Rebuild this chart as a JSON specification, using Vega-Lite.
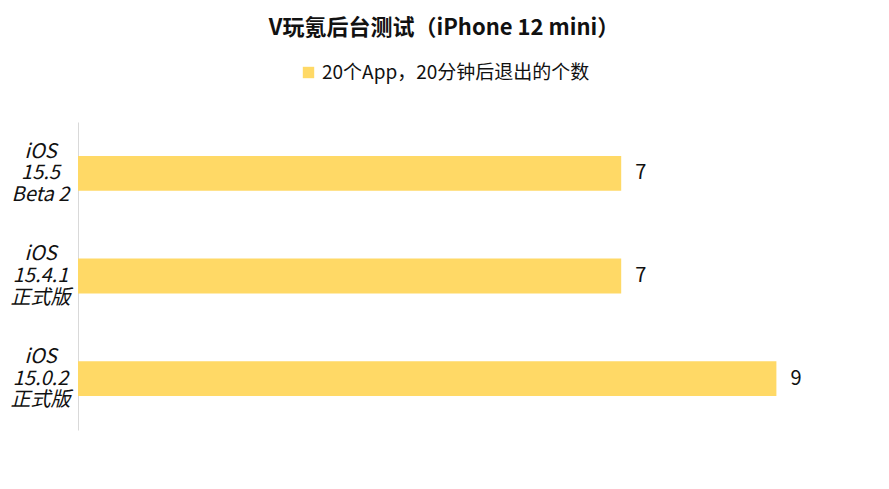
{
  "$schema": "https://vega.github.io/schema/vega-lite/v6.json",
  "width": 776,
  "height": 308,
  "autosize": {"type": "none"},
  "padding": {"left": 78, "top": 122, "right": 35, "bottom": 59},
  "background": "white",
  "title": {
    "text": "V玩氪后台测试（iPhone 12 mini）",
    "font": "Noto Sans CJK SC",
    "fontSize": 22,
    "fontWeight": "bold",
    "color": "#111111",
    "anchor": "middle",
    "dx": -22,
    "offset": 23
  },
  "data": {
    "values": [
      {"version": "iOS\n15.5\nBeta 2", "count": 7, "series": "20个App，20分钟后退出的个数"},
      {"version": "iOS\n15.4.1\n正式版", "count": 7, "series": "20个App，20分钟后退出的个数"},
      {"version": "iOS\n15.0.2\n正式版", "count": 9, "series": "20个App，20分钟后退出的个数"}
    ]
  },
  "encoding": {
    "y": {
      "field": "version",
      "type": "nominal",
      "sort": null,
      "title": null,
      "scale": {"paddingInner": 0.66, "paddingOuter": 0.33},
      "axis": {
        "domain": true,
        "domainColor": "#D9D9D9",
        "domainWidth": 1,
        "ticks": false,
        "tickSize": 0,
        "labelPadding": 38,
        "labelAlign": "center",
        "labelBaseline": "middle",
        "labelOffset": -21.7,
        "labelFont": "Noto Sans CJK SC",
        "labelFontStyle": "italic",
        "labelFontSize": 20,
        "labelLineHeight": 21.7,
        "labelColor": "#111111",
        "labelLimit": 200,
        "labelOverlap": false,
        "labelExpr": "split(datum.value, '\\n')"
      }
    },
    "x": {
      "field": "count",
      "type": "quantitative",
      "scale": {"domain": [0, 10], "nice": false},
      "axis": null
    }
  },
  "layer": [
    {
      "mark": {"type": "bar", "color": "#FFD966"},
      "encoding": {
        "fill": {
          "field": "series",
          "type": "nominal",
          "scale": {"range": ["#FFD966"]},
          "legend": {
            "title": null,
            "orient": "none",
            "legendX": 221,
            "legendY": -59,
            "symbolType": "square",
            "symbolSize": 130,
            "symbolStrokeWidth": 0,
            "labelFont": "Noto Sans CJK SC",
            "labelFontSize": 19,
            "labelColor": "#111111",
            "labelLimit": 400
          }
        }
      }
    },
    {
      "mark": {
        "type": "text",
        "align": "left",
        "baseline": "middle",
        "dx": 14,
        "font": "Noto Sans CJK SC",
        "fontSize": 20,
        "color": "#111111"
      },
      "encoding": {
        "text": {"field": "count", "type": "quantitative"}
      }
    }
  ],
  "config": {
    "view": {"stroke": null}
  }
}
